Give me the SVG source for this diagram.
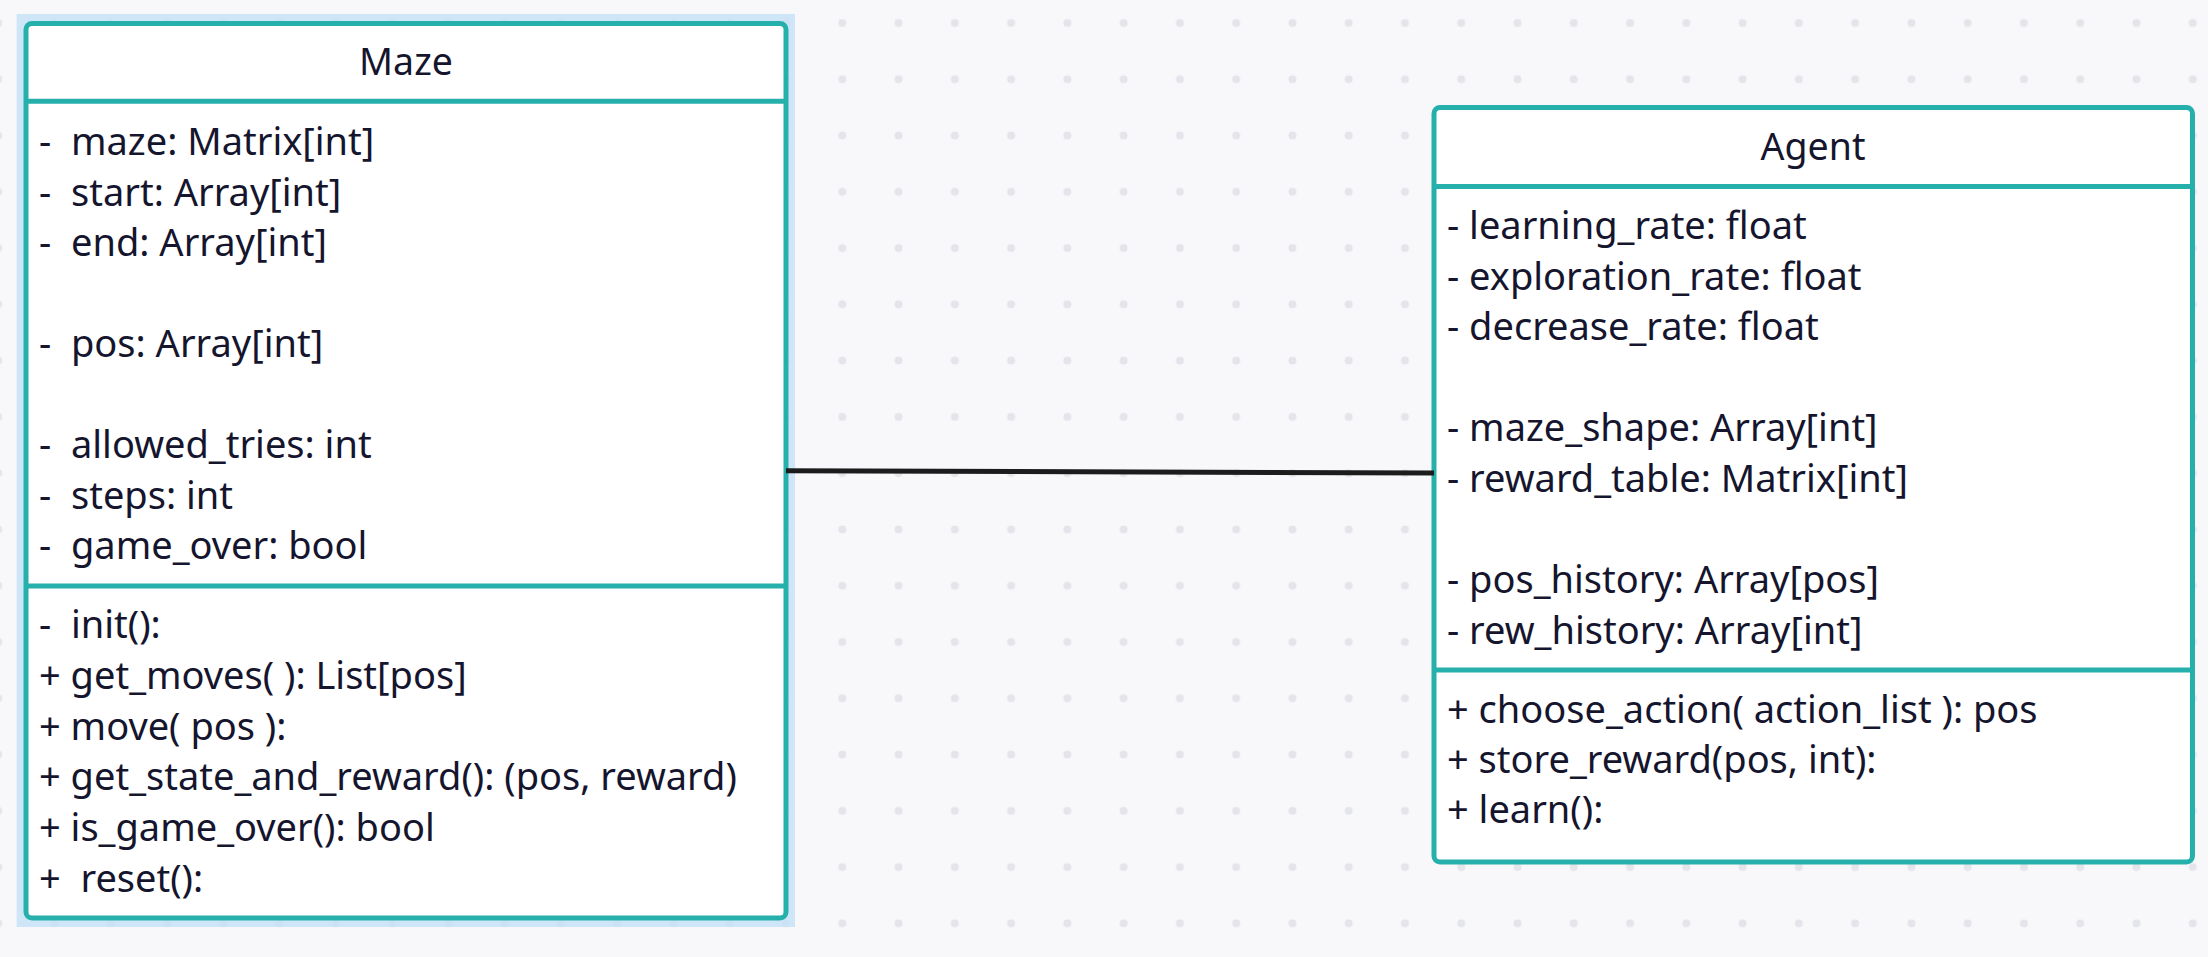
<svg xmlns="http://www.w3.org/2000/svg" width="2208" height="957" viewBox="0 0 2208 957">
  <defs>
    <pattern id="dots" patternUnits="userSpaceOnUse" x="26.365" y="-5.135" width="56.27" height="56.27">
      <circle cx="28.135" cy="28.135" r="4" fill="#e4e5ea"/>
    </pattern>
    <style>
      .box { fill: #ffffff; stroke: #26b0ab; stroke-width: 5; }
      .sep { stroke: #26b0ab; stroke-width: 5; fill: none; }
      .title { font-family: "Noto Sans", "Open Sans", sans-serif; font-size: 37.5px; fill: #15152e; text-anchor: middle; }
      .t { font-family: "Noto Sans", "Open Sans", sans-serif; font-size: 38px; fill: #15152e; white-space: pre; }
      .conn { stroke: #1c1c1c; stroke-width: 5; fill: none; }
    </style>
  </defs>
  <rect x="0" y="0" width="2208" height="957" fill="#f8f8fb"/>
  <rect x="0" y="0" width="2208" height="957" fill="url(#dots)"/>

  <g id="maze">
    <rect x="16.7" y="14" width="778.3" height="913" fill="#c4e1f8" fill-opacity="0.8"/>
    <rect class="box" x="26" y="23.5" width="760" height="894.5" rx="6"/>
    <line class="sep" x1="26" y1="101.3" x2="786" y2="101.3"/>
    <line class="sep" x1="26" y1="586" x2="786" y2="586"/>
    <text class="title" x="406" y="75">Maze</text>
    <text class="t" x="39" y="155" xml:space="preserve">-  maze: Matrix[int]</text>
    <text class="t" x="39" y="205.5" xml:space="preserve">-  start: Array[int]</text>
    <text class="t" x="39" y="256" xml:space="preserve">-  end: Array[int]</text>
    <text class="t" x="39" y="357" xml:space="preserve">-  pos: Array[int]</text>
    <text class="t" x="39" y="458" xml:space="preserve">-  allowed_tries: int</text>
    <text class="t" x="39" y="508.5" xml:space="preserve">-  steps: int</text>
    <text class="t" x="39" y="559" xml:space="preserve">-  game_over: bool</text>
    <text class="t" x="39" y="638" xml:space="preserve">-  init():</text>
    <text class="t" x="39" y="688.8" xml:space="preserve">+ get_moves( ): List[pos]</text>
    <text class="t" x="39" y="739.6" xml:space="preserve">+ move( pos ):</text>
    <text class="t" x="39" y="790.4" xml:space="preserve">+ get_state_and_reward(): (pos, reward)</text>
    <text class="t" x="39" y="841.2" xml:space="preserve">+ is_game_over(): bool</text>
    <text class="t" x="39" y="892" xml:space="preserve">+  reset():</text>
  </g>

  <g id="agent">
    <rect class="box" x="1434" y="107.5" width="758.5" height="754.5" rx="6"/>
    <line class="sep" x1="1434" y1="186.5" x2="2192.5" y2="186.5"/>
    <line class="sep" x1="1434" y1="670" x2="2192.5" y2="670"/>
    <text class="title" x="1813" y="160">Agent</text>
    <text class="t" x="1447" y="239" xml:space="preserve">- learning_rate: float</text>
    <text class="t" x="1447" y="289.6" xml:space="preserve">- exploration_rate: float</text>
    <text class="t" x="1447" y="340.2" xml:space="preserve">- decrease_rate: float</text>
    <text class="t" x="1447" y="441.4" xml:space="preserve">- maze_shape: Array[int]</text>
    <text class="t" x="1447" y="492" xml:space="preserve">- reward_table: Matrix[int]</text>
    <text class="t" x="1447" y="593" xml:space="preserve">- pos_history: Array[pos]</text>
    <text class="t" x="1447" y="643.6" xml:space="preserve">- rew_history: Array[int]</text>
    <text class="t" x="1447" y="723" xml:space="preserve">+ choose_action( action_list ): pos</text>
    <text class="t" x="1447" y="773" xml:space="preserve">+ store_reward(pos, int):</text>
    <text class="t" x="1447" y="823" xml:space="preserve">+ learn():</text>
  </g>

  <g id="connectors">
    <line class="conn" x1="786" y1="470.7" x2="1434" y2="473"/>
  </g>
</svg>
